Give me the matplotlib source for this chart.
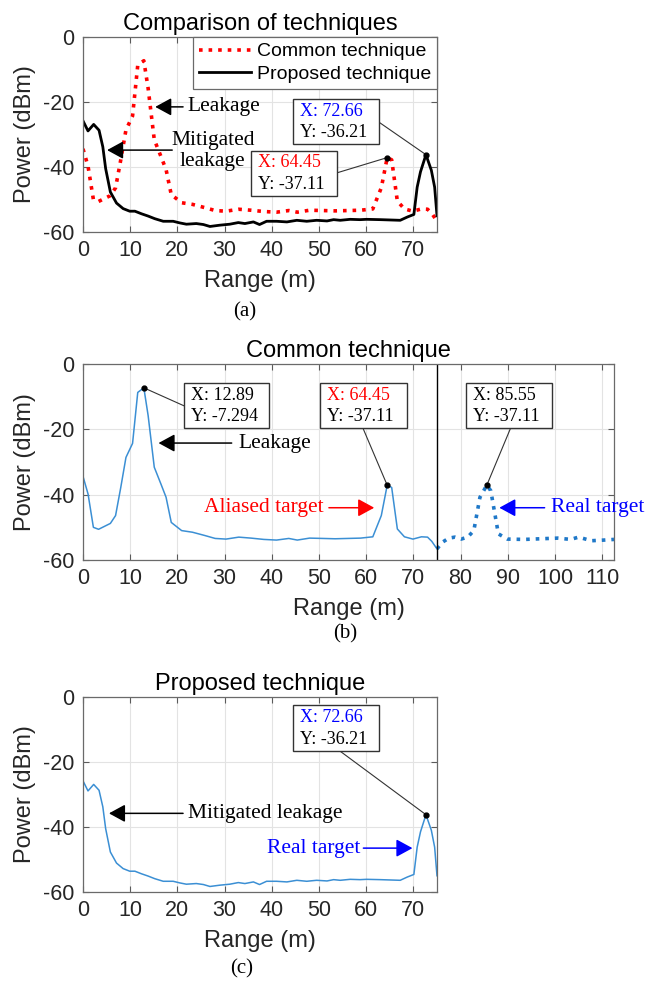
import matplotlib
matplotlib.use('Agg')
from matplotlib import pyplot as plt
from matplotlib.patches import Rectangle

# common technique, 0-75 m
common_x = [0, 1.07, 2.2, 3.3, 5.8, 6.9, 8.0, 9.1, 10.5, 11.6, 12.89, 13.8, 15.1, 16.5,
            17.6, 18.7, 20.9, 23.2, 25.8, 28.0, 30.3, 33.0, 35.6, 38.3, 41.0, 43.6, 45.4,
            48.0, 50.8, 53.4, 56.1, 58.8, 61.4, 63.2, 64.45, 65.4, 66.6, 68.1, 69.9, 71.7,
            73.0, 73.9, 75.0]
common_y = [-34.4, -39.8, -50.0, -50.6, -48.8, -46.4, -37.8, -28.6, -24.3, -8.7, -7.294,
            -15.8, -31.6, -36.7, -40.8, -48.5, -51.0, -51.5, -52.5, -53.4, -53.6, -53.0,
            -53.3, -53.7, -53.9, -53.4, -53.9, -53.3, -53.4, -53.5, -53.4, -53.3, -52.9,
            -46.4, -37.11, -37.8, -50.5, -52.9, -53.6, -52.9, -53.0, -54.3, -56.6]

# common technique beyond 75 m (dotted part of panel b)
real_x = [75.0, 76.1, 77.5, 78.8, 80.1, 81.5, 82.8, 84.1, 85.55, 86.4, 88.0, 89.9, 93.5,
          97.0, 100.6, 103.3, 105.0, 107.7, 110.4, 112.5]
real_y = [-56.6, -54.6, -53.3, -53.0, -53.6, -53.0, -51.0, -40.8, -37.11, -38.8, -52.0,
          -53.6, -53.7, -53.5, -53.3, -53.7, -53.0, -54.1, -53.9, -53.7]

# proposed technique
prop_x = [0, 1.06, 2.26, 3.4, 4.2, 4.8, 5.8, 7.1, 8.5, 9.9, 11.0, 12.4, 13.8, 15.2, 17.0,
          19.1, 20.5, 21.9, 24.0, 25.5, 26.9, 29.0, 31.1, 32.9, 34.3, 36.1, 37.4, 38.9,
          41.0, 43.2, 45.3, 47.4, 49.5, 51.7, 53.1, 54.5, 56.6, 58.7, 60.1, 63.0, 67.2,
          68.7, 70.1, 70.8, 71.5, 72.66, 73.8, 74.5, 75.0]
prop_y = [-25.8, -28.9, -26.9, -28.7, -33.8, -40.5, -47.7, -51.1, -52.8, -53.6, -53.6,
          -54.4, -55.1, -55.9, -56.7, -56.7, -57.2, -57.6, -57.4, -57.7, -58.3, -57.9,
          -57.6, -57.1, -57.4, -56.9, -57.7, -56.7, -56.7, -56.9, -56.4, -56.7, -56.4,
          -56.6, -56.2, -56.4, -56.1, -56.2, -56.1, -56.2, -56.4, -55.4, -54.6, -46.2,
          -41.5, -36.21, -41.0, -46.2, -55.0]

x_ticks_short = [0, 10, 20, 30, 40, 50, 60, 70]
x_ticks_long = [0, 10, 20, 30, 40, 50, 60, 70, 80, 90, 100, 110]
y_ticks = [-60, -40, -20, 0]

SANS = 'Liberation Sans'
SERIF = 'Liberation Serif'
plt.rcParams['font.family'] = SANS
plt.rcParams['axes.unicode_minus'] = False
blue_line = '#3b8fd4'

W, H = 657, 986
fig = plt.figure(figsize=(W / 100, H / 100), dpi=100)


def px_axes(l, t, r, b):
    return fig.add_axes([l / W, 1 - b / H, (r - l) / W, (b - t) / H])


def style(ax, xmax, xticks, title):
    ax.set_xlim(0, xmax)
    ax.set_ylim(-60, 0)
    ax.set_xticks(xticks)
    ax.set_yticks(y_ticks)
    ax.grid(True, color='#e3e3e3', linewidth=0.8)
    ax.set_axisbelow(True)
    ax.tick_params(direction='in', top=True, right=True, length=4, labelsize=15.5,
                   colors='#5a5a5a', labelcolor='#262626', pad=6)
    for s in ax.spines.values():
        s.set_color('#6a6a6a')
        s.set_linewidth(0.9)
    ax.set_xlabel('Range (m)', fontsize=17, color='#262626', labelpad=6)
    ax.set_ylabel('Power (dBm)', fontsize=17, color='#262626', labelpad=5)
    ax.set_title(title, fontsize=17, color='black', pad=5)


def datatip(ax, xs, ys, xval, box, anchor, xcolor='black'):
    i = xs.index(xval)
    px, py = xs[i], ys[i]
    x0, x1, y0, y1 = box
    ax.plot([anchor[0], px], [anchor[1], py], color='#333333', lw=0.8, zorder=5)
    ax.plot(px, py, 'o', color='black', ms=3.5, zorder=6)
    ax.add_patch(Rectangle((x0, y1), x1 - x0, y0 - y1, facecolor='white',
                           edgecolor='#333333', lw=1.0, zorder=7))
    pad = (x1 - x0) * 0.08
    ax.text(x0 + pad, y0 + (y1 - y0) * 0.27, 'X: %g' % px, color=xcolor, fontsize=13,
            family=SERIF, va='center', ha='left', zorder=8)
    ax.text(x0 + pad, y0 + (y1 - y0) * 0.74, 'Y: %g' % py, color='black', fontsize=13,
            family=SERIF, va='center', ha='left', zorder=8)


def arrow(ax, tail, head, color='black'):
    ax.annotate('', xy=head, xytext=tail,
                arrowprops=dict(arrowstyle='-|>,head_length=0.55,head_width=0.3',
                                color=color, lw=1.1, mutation_scale=18,
                                shrinkA=0, shrinkB=0))


# (a) comparison
ax1 = px_axes(83, 37, 437, 232)
ax1.plot(common_x, common_y, ':', color='red', lw=2.6, label='Common technique')
ax1.plot(prop_x, prop_y, '-', color='black', lw=2.0, label='Proposed technique')
style(ax1, 75, x_ticks_short, 'Comparison of techniques')
leg = ax1.legend(loc='upper right', fontsize=14, handlelength=2.7, borderaxespad=0,
                 fancybox=False, framealpha=1, edgecolor='#6a6a6a', borderpad=0.3,
                 labelspacing=0.25, handletextpad=0.3)
leg.get_frame().set_linewidth(0.9)
ax1.text(22.2, -21.5, 'Leakage', family=SERIF, fontsize=15.5, va='center', ha='left')
arrow(ax1, (21.2, -21.5), (15.3, -21.5))
ax1.text(27.5, -35.2, 'Mitigated\nleakage', family=SERIF, fontsize=15.5, va='center',
         ha='center', multialignment='center', linespacing=1.15)
arrow(ax1, (18.9, -34.8), (5.1, -34.8))
datatip(ax1, prop_x, prop_y, 72.66, (44.5, 62.7, -19.1, -32.9), (62.7, -26.2), 'blue')
datatip(ax1, common_x, common_y, 64.45, (35.6, 53.8, -35.0, -48.9), (53.8, -41.8), 'red')

# (b) common technique
ax2 = px_axes(83, 364, 614, 560)
ax2.plot(common_x, common_y, '-', color=blue_line, lw=1.1)
ax2.plot(real_x, real_y, ':', color='#1f78c8', lw=2.6)
ax2.axvline(75, color='black', lw=1.0)
style(ax2, 112.5, x_ticks_long, 'Common technique')
datatip(ax2, common_x, common_y, 12.89, (21.4, 39.5, -5.8, -19.6), (21.4, -12.8))
datatip(ax2, common_x, common_y, 64.45, (50.2, 68.7, -5.8, -19.6), (59.3, -19.6), 'red')
datatip(ax2, real_x, real_y, 85.55, (81.1, 99.3, -5.8, -19.6), (90.6, -19.6))
ax2.text(32.9, -24.2, 'Leakage', family=SERIF, fontsize=15.5, va='center', ha='left')
arrow(ax2, (31.5, -24.2), (16.0, -24.2))
ax2.text(51.0, -44.0, 'Aliased target', family=SERIF, fontsize=15.5, va='center',
         ha='right', color='red')
arrow(ax2, (52.1, -44.0), (61.7, -44.0), 'red')
ax2.text(99.1, -44.0, 'Real target', family=SERIF, fontsize=15.5, va='center',
         ha='left', color='blue')
arrow(ax2, (97.8, -44.0), (88.2, -44.0), 'blue')

# (c) proposed technique
ax3 = px_axes(83, 697, 437, 892)
ax3.plot(prop_x, prop_y, '-', color=blue_line, lw=1.1)
style(ax3, 75, x_ticks_short, 'Proposed technique')
datatip(ax3, prop_x, prop_y, 72.66, (44.5, 62.8, -2.6, -16.7), (54.5, -16.7), 'blue')
ax3.text(22.2, -35.8, 'Mitigated leakage', family=SERIF, fontsize=15.5, va='center',
         ha='left')
arrow(ax3, (21.2, -35.8), (5.5, -35.8))
ax3.text(58.7, -46.5, 'Real target', family=SERIF, fontsize=15.5, va='center',
         ha='right', color='blue')
arrow(ax3, (59.4, -46.5), (69.8, -46.5), 'blue')

# captions
for label, cx, cy in [('(a)', 245, 312), ('(b)', 345, 634), ('(c)', 242, 969)]:
    fig.text(cx / W, 1 - cy / H, label, family=SERIF, fontsize=15, ha='center', va='center')

fig.savefig('out.png', dpi=100)
